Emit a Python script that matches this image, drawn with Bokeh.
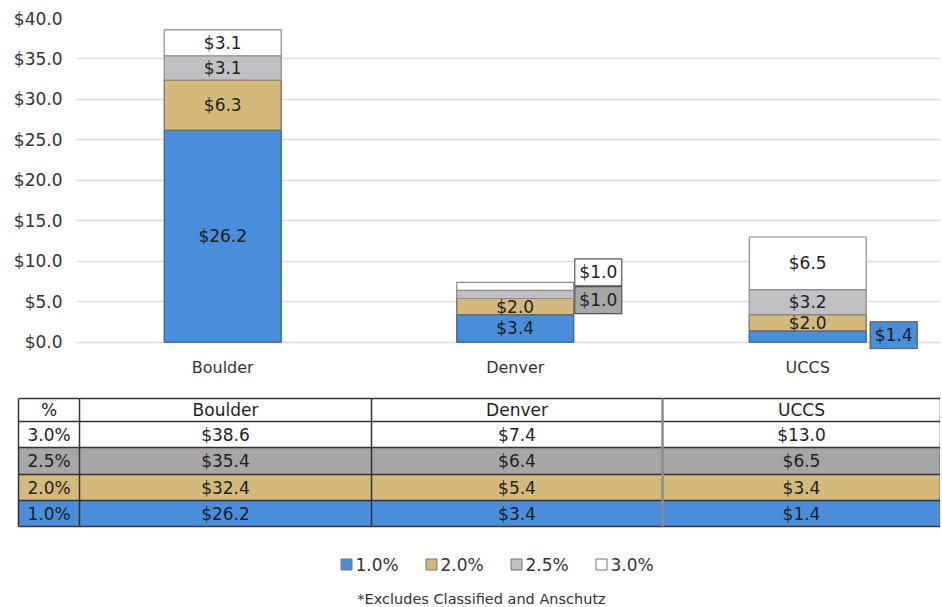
from bokeh.plotting import figure
from bokeh.models import Range1d, FixedTicker, NumeralTickFormatter
from bokeh.layouts import column
from bokeh.embed import file_html
from bokeh.resources import INLINE
from bokeh.core.properties import value

# ---------------- data ----------------
categories = ["Boulder", "Denver", "UCCS"]
series = ["1.0%", "2.0%", "2.5%", "3.0%"]
# cumulative totals (as in the data table)
total_10 = [26.2, 3.4, 1.4]
total_20 = [32.4, 5.4, 3.4]
total_25 = [35.4, 6.4, 6.5]
total_30 = [38.6, 7.4, 13.0]
# segment values as labelled on the bars
seg_10 = [26.2, 3.4, 1.4]
seg_20 = [6.3, 2.0, 2.0]
seg_25 = [3.1, 1.0, 3.2]
seg_30 = [3.1, 1.0, 6.5]
y_ticks = [0, 5, 10, 15, 20, 25, 30, 35, 40]
footnote = "*Excludes Classified and Anschutz"

totals = [total_10, total_20, total_25, total_30]
segs = [seg_10, seg_20, seg_25, seg_30]

# ---------------- style ----------------
FONT = "DejaVu Sans"
TXT = "#1e1e1e"
bar_colors = ["#4A8EDB", "#D3B97B", "#C1C1C5", "#FFFFFF"]
bar_lines = ["#2F5F9F", "#6F6A5A", "#8A8A8A", "#8A8A8A"]
table_colors = ["#4A8EDB", "#D3B97B", "#A6A6A6", "#FFFFFF"]
# callout labels: (category index, series index, dx, dy) in data units
callouts = [(1, 2, 0.284, -0.71), (1, 3, 0.284, 1.74), (2, 0, 0.294, 0.16)]
callout_fill = {0: "#4A8EDB", 2: "#A6A6A6", 3: "#FFFFFF"}

# ---------------- chart ----------------
p = figure(width=940, height=385, x_range=Range1d(-0.5, 2.454), y_range=Range1d(-0.9, 40),
           output_backend="svg", toolbar_location=None,
           min_border_left=76, min_border_right=0, min_border_top=18, min_border_bottom=36)
p.frame_align = False
p.outline_line_color = None
p.xgrid.visible = False
p.ygrid.ticker = FixedTicker(ticks=y_ticks)
p.ygrid.grid_line_color = "#DDDDDD"
p.ygrid.grid_line_width = 1.5

p.yaxis.ticker = FixedTicker(ticks=y_ticks)
p.yaxis.formatter = NumeralTickFormatter(format="$0.0")
p.yaxis.axis_line_color = None
p.yaxis.major_tick_line_color = None
p.yaxis.minor_tick_line_color = None
p.yaxis.major_tick_out = 0
p.yaxis.major_tick_in = 0
p.yaxis.minor_tick_out = 0
p.yaxis.major_label_standoff = 14
p.yaxis.major_label_text_font = FONT
p.yaxis.major_label_text_font_size = "17px"
p.yaxis.major_label_text_color = "#333333"

xs = list(range(len(categories)))
p.xaxis.ticker = FixedTicker(ticks=xs)
p.xaxis.major_label_overrides = {i: c for i, c in enumerate(categories)}
p.xaxis.axis_line_color = None
p.xaxis.major_tick_line_color = None
p.xaxis.minor_tick_line_color = None
p.xaxis.major_tick_out = 0
p.xaxis.major_tick_in = 0
p.xaxis.minor_tick_out = 0
p.xaxis.major_label_standoff = 8
p.xaxis.major_label_text_font = FONT
p.xaxis.major_label_text_font_size = "16px"
p.xaxis.major_label_text_color = "#333333"

callout_set = {(c, s) for c, s, _, _ in callouts}
prev = [0.0] * len(categories)
mids = []
for si in range(len(series)):
    tops = totals[si]
    p.vbar(x=xs, bottom=prev, top=tops, width=0.40,
           fill_color=bar_colors[si], line_color=bar_lines[si], line_width=1.2)
    mids.append([(b + t) / 2 for b, t in zip(prev, tops)])
    lx, ly, lt = [], [], []
    for ci in xs:
        if (ci, si) in callout_set:
            continue
        lx.append(ci)
        ly.append(mids[si][ci])
        lt.append("$%.1f" % segs[si][ci])
    p.text(x=lx, y=ly, text=lt, text_align="center", text_baseline="middle",
           text_font=value(FONT), text_font_size="17px", text_color=TXT)
    prev = tops

for ci, si, dx, dy in callouts:
    cx = ci + dx
    cy = mids[si][ci] + dy
    p.rect(x=[cx], y=[cy], width=47, height=27, width_units="screen", height_units="screen",
           fill_color=callout_fill[si], line_color="#555555", line_width=1.2)
    p.text(x=[cx], y=[cy], text=["$%.1f" % segs[si][ci]], text_align="center",
           text_baseline="middle", text_font=value(FONT), text_font_size="17px", text_color=TXT)

# ---------------- table + legend ----------------
t = figure(width=940, height=222, x_range=Range1d(0, 940), y_range=Range1d(607, 385),
           output_backend="svg", toolbar_location=None, x_axis_type=None, y_axis_type=None,
           min_border=0, min_border_left=0, min_border_right=0,
           min_border_top=0, min_border_bottom=0)
t.frame_align = False
t.outline_line_color = None
t.xgrid.visible = False
t.ygrid.visible = False

col_edges = [18, 79, 371, 662, 940]
row_edges = [398, 421, 447, 474, 500, 526]
order = [3, 2, 1, 0]  # table rows top-to-bottom: 3.0%, 2.5%, 2.0%, 1.0%

# row fills
t.quad(left=[col_edges[0]], right=[col_edges[-1]], top=[row_edges[0]], bottom=[row_edges[1]],
       fill_color="#FFFFFF", line_color=None)
for r, si in enumerate(order):
    t.quad(left=[col_edges[0]], right=[col_edges[-1]], top=[row_edges[r + 1]],
           bottom=[row_edges[r + 2]], fill_color=table_colors[si], line_color=None)

# grid lines
for y in row_edges:
    t.line(x=[col_edges[0], col_edges[-1]], y=[y, y], line_color="#333333", line_width=1.5)
for k, xv in enumerate(col_edges):
    lc, lw = ("#8C8C8C", 2.5) if k == 3 else ("#333333", 1.5)
    t.line(x=[xv, xv], y=[row_edges[0], row_edges[-1]], line_color=lc, line_width=lw)

col_centers = [(a + b) / 2 for a, b in zip(col_edges[:-1], col_edges[1:])]
row_centers = [(a + b) / 2 for a, b in zip(row_edges[:-1], row_edges[1:])]
header = ["%"] + categories
t.text(x=col_centers, y=[row_centers[0]] * 4, text=header, text_align="center",
       text_baseline="middle", text_font=value(FONT), text_font_size="17px", text_color=TXT)
for r, si in enumerate(order):
    cells = [series[si]] + ["$%.1f" % v for v in totals[si]]
    t.text(x=col_centers, y=[row_centers[r + 1]] * 4, text=cells, text_align="center",
           text_baseline="middle", text_font=value(FONT), text_font_size="17px", text_color=TXT)

# legend
leg_x = [346 + 85 * i for i in range(len(series))]
leg_y = [564] * len(series)
t.rect(x=leg_x, y=leg_y, width=11, height=11, width_units="screen", height_units="screen",
       fill_color=bar_colors, line_color="#777777", line_width=1)
t.text(x=[v + 9 for v in leg_x], y=leg_y, text=series, text_align="left",
       text_baseline="middle", text_font=value(FONT), text_font_size="17px", text_color="#333333")

# footnote
t.text(x=[481], y=[598], text=[footnote], text_align="center", text_baseline="middle",
       text_font=value(FONT), text_font_size="14.5px", text_color="#333333")

layout = column(p, t, spacing=0)
open("out.html", "w").write(file_html(layout, INLINE))
